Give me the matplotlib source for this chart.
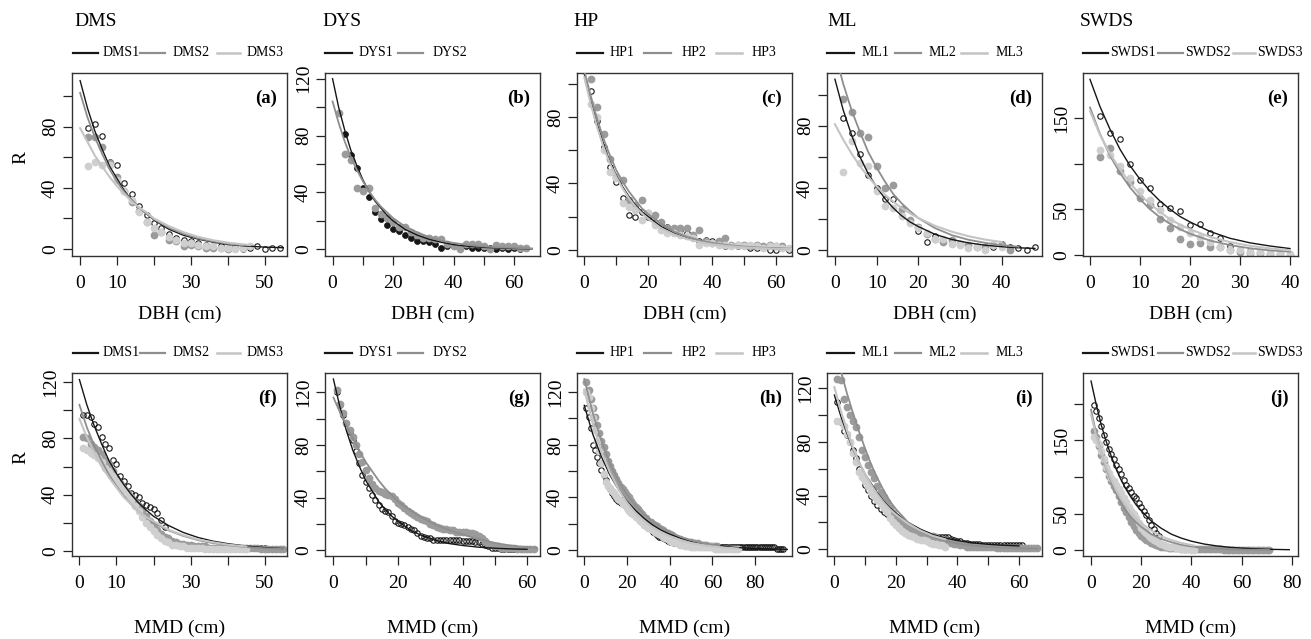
import matplotlib
matplotlib.use('Agg')
import matplotlib.pyplot as plt
from matplotlib.lines import Line2D

plt.rcParams['font.family'] = ['Liberation Serif', 'DejaVu Serif']

W, H = 1311, 639

# ===================== DATA: top row (R vs DBH) =====================
# (a) DMS
a_DMS1_x = [2,4,6,8,10,12,14,16,18,20,22,24,26,28,30,32,34,36,38,40,42,44,46,48,50,52,54]
a_DMS1_R = [79,82,74,57,55,43,36,28,22,17,14,10,7,6,5,4,3,2,2,1,1,0,1,2,0,1,1]
a_DMS2_x = [2,4,6,8,10,12,14,16,18,20,22,24,26,28,30,32,34,36,38,40,42,44]
a_DMS2_R = [73,73,67,56,47,38,31,25,18,9,11,6,5,2,3,2,1,1,1,0,1,1]
a_DMS3_x = [2,4,6,8,10,12,14,16,18,20,22,24,26,28,30,32,34,36,38,40,42,44,46]
a_DMS3_R = [54,57,55,55,45,38,32,24,18,14,11,8,6,4,4,3,2,2,1,1,0,1,2]
a_fit1_x = [0,2,4,6,8,10,12,14,16,18,20,24,28,32,36,40,45,50,55]
a_fit1_R = [110,92,77,65,54,46,38,32,27,23,19,13,9,6.5,4.5,3,2,1.3,0.9]
a_fit2_x = [0,2,4,6,8,10,12,14,16,18,20,24,28,32,36,40,44]
a_fit2_R = [102,86,73,62,52,44,37,32,27,23,19.5,14,10,7,5,3.5,2.5]
a_fit3_x = [0,2,4,6,8,10,12,14,16,18,20,24,28,32,36,40,46]
a_fit3_R = [79,70,61,54,47,41,36,31,27,24,20,15,11,8,5.8,4.2,2.6]

# (b) DYS
b_DYS1_x = [4,6,8,10,12,14,16,18,20,22,24,26,28,30,32,34,36,38,40,42,44,46,48,50,52,54,56,58,60,62,64]
b_DYS1_R = [81,66,57,43,37,26,21,17,14,13,10,8,6,6,5,4,1,2,2,1,2,1,1,1,1,0,1,0,1,0,1]
b_DYS2_x = [2,4,6,8,10,12,14,16,18,20,22,24,26,28,30,32,34,36,38,40,42,44,46,48,50,52,54,56,58,60,62,64]
b_DYS2_R = [96,67,63,43,41,43,29,25,22,19,16,16,12,10,8,8,7,7,4,2,0,4,4,4,2,0,3,2,2,2,1,1]
b_fit_x = [0,2,4,6,8,10,12,14,16,18,20,24,28,32,36,40,45,50,55,60,66]
b_fit1_R = [120,100,84,70,59,49,41,34,29,24,20,14,10,7,5,3.3,2.1,1.4,0.9,0.6,0.3]
b_fit2_R = [104,89,76,65,56,48,41,35,30,26,22,16,12,8.5,6,4.5,3,2,1.4,1,0.6]

# (c) HP
c_HP1_x = [2,4,6,8,10,12,14,16,18,20,22,24,26,28,30,32,34,36,38,40,42,44,46,48,50,52,54,56,58,60,62,64]
c_HP1_R = [96,78,62,50,41,31,21,20,23,20,17,15,14,13,12,10,8,5,6,5,4,2,2,2,2,1,1,1,0,0,1,0]
c_HP2_x = [2,4,6,8,10,12,14,16,18,20,22,24,26,28,30,32,34,36,38,40,42,44,46,48,50,52,54,56,58,60,62]
c_HP2_R = [103,86,70,55,44,42,30,27,30,22,21,17,13,13,13,13,9,12,5,4,5,7,3,3,3,2,3,2,3,2,2]
c_HP3_x = [2,4,6,8,10,12,14,16,18,20,22,24,26,28,30,32,34,36,38,40,42,44,46,48,50,52,54,56,58,60,62,64]
c_HP3_R = [88,80,60,47,43,28,26,24,18,22,15,12,10,10,9,8,7,3,4,4,3,3,2,3,2,3,2,1,2,2,1,1]
c_fit_x = [0,2,4,6,8,10,12,14,16,18,20,24,28,32,36,40,45,50,55,60,65]
c_fit1_R = [106,90,76,64,53,45,38,32,27,23,20,14,10,7,5,3.6,2.4,1.6,1.1,0.8,0.5]
c_fit2_R = [108,93,79,67,57,48,41,35,30,25,21.5,15.5,11,8,5.8,4.2,2.8,1.9,1.3,0.9,0.6]
c_fit3_R = [104,88,74,62,52,44,37,31,26,22,18.5,13,9.3,6.6,4.7,3.3,2.2,1.4,0.9,0.6,0.4]

# (d) ML
d_ML1_x = [2,4,6,8,10,12,14,16,18,20,22,24,26,28,30,32,34,36,38,40,42,44,46,48]
d_ML1_R = [85,75,62,48,40,33,33,22,18,12,5,9,6,5,4,3,2,1,2,4,2,1,0,2]
d_ML2_x = [2,4,6,8,10,12,14,16,18,20,22,24,26,28,30,32,34,36,38,40,42]
d_ML2_R = [97,89,75,73,54,40,42,26,19,15,10,7,5,6,4,3,2,2,3,3,0]
d_ML3_x = [2,4,6,8,10,12,14,16,18,20,22,24,26,28,30,32,34,36,38,40]
d_ML3_R = [50,70,56,54,38,28,27,22,17,14,11,7,7,4,3,1,2,0,3,2]
d_fit1_x = [0,2,4,6,8,10,12,14,16,18,20,24,28,32,36,40,44,48]
d_fit1_R = [110,90,74,60,49,40.5,33,27,22,18,15,10,6.7,4.5,3,2,1.3,0.9]
d_fit2_x = [0,2,4,6,8,10,12,14,16,18,20,24,28,32,36,40,44]
d_fit2_R = [127,107,90,76,63,53,44,36,30,25,20.5,14,9.5,6.5,4.5,3,2]
d_fit3_x = [0,2,4,6,8,10,12,14,16,18,20,24,28,32,36,40]
d_fit3_R = [81,71,62,54,47,41,35.5,31,27,23.5,20.5,15.5,11.7,8.8,6.6,5]

# (e) SWDS
e_x = [2,4,6,8,10,12,14,16,18,20,22,24,26,28,30,32,34,36,38,40]
e_SWDS1_R = [153,134,127,100,82,73,56,51,48,33,34,24,18,9,5,4,3,2,2,1]
e_SWDS2_R = [108,117,92,80,62,55,39,29,17,12,13,8,8,5,3,2,2,1,1,0]
e_SWDS3_R = [115,110,98,84,70,60,49,38,30,24,19,14,8,5,5,3,3,2,2,1]
e_fit_x = [0,2,4,6,8,10,12,14,16,18,20,24,28,32,36,40]
e_fit1_R = [193,163,138,116,98,83,70,59,50,42,36,25.5,18,13,9.5,6.7]
e_fit2_R = [162,133,109,90,74,61,50,41,34,28,23,15.5,10.5,7,4.7,3.2]
e_fit3_R = [158,132,111,94,79,66,56,47,39,33,28,19.5,13.8,9.7,6.8,4.8]

# ===================== DATA: bottom row (R vs MMD, 1-cm classes) =====================
# (f) DMS
f_DMS1_x = [1,2,3,4,5,6,7,8,9,10,11,12,13,14,15,16,17,18,19,20,21,22,23,44,45,46,47,48,49,50]
f_DMS1_R = [97,97,95,90,88,81,76,73,65,62,53,50,46,41,40,38.5,34,32.5,31,30,27,22,17,2,2,2,2,2,2,2]
f_DMS2_R = [81,80,76,74,72,69,65,62,57,52,48,44,41,38,35,32,28,25,21,18,15,12,10,9,7,6,5,5,4,4,
            3,3,3,3,2,2,2,2,2,2,2,2,2,2,2,2,2,2,1,1,1,1,1,1,1]
f_DMS3_R = [73,72,70,68,66,63,59,56,53,50,47,43,40,36,32,28,24,20,17,14,11,9,7,6,4,4,3,3,2,2,
            2,2,2,1,1,1,1,1,1,1,1,1,1,1,1]
f_fit_x = [0,2,4,6,8,10,12,14,16,18,20,24,28,32,36,40,45,50,55]
f_fit1_R = [122,104,89,76,64,55,47,40,34,29,24.5,18,13,9.4,6.8,5,3.3,2.2,1.5]
f_fit2_R = [104,88,75,64,54,46,39,33,28,24,20,14.5,10.5,7.5,5.4,3.9,2.6,1.7,1.2]
f_fit3_x = [0,2,4,6,8,10,12,14,16,18,20,24,28,32,36,40,45]
f_fit3_R = [94,81,70,60,52,45,38,33,28,24,21,15,11,8,6,4.3,3]

# (g) DYS
g_DYS1_R = [120,110,103,97,90,84,75,66,57,52,47,42,38,34,31,30,29,26,22,21,20,19,18,16,15,13,11,10,9,9,
            8,8,8,8,8,8,8,8,8,7,7,7,7,6,6,5,4,3,2,2,2,1,1,1,1,1]
g_DYS2_R = [122,111,104,97,91,86,80,73,67,61,55,50,47,45,44,43,42,41,39,36,34,32,30,28,27,25,24,23,22,20,
            19,18,17,16,16,15,15,14,14,14,14,13,13,12,11,9,7,5,4,3,3,2,2,2,2,2,1,1,1,1,1,1]
g_fit1_x = [0,2,4,6,8,10,12,14,16,18,20,24,28,32,36,40,45,50,55,60]
g_fit1_R = [130,109,91,76,64,53,45,37,31,26,22,15,10.5,7.3,5,3.6,2.3,1.5,1,0.7]
g_fit2_x = [0,2,4,6,8,10,12,14,16,18,20,24,28,32,36,40,45,50,55,60,63]
g_fit2_R = [116,105,95,85,76,67,60,53,47,42,37,30,24,19,15,12,8.5,5.5,3.5,2.2,1.7]

# (h) HP
h_HP1_R = [108,101,93,80,76,71,66,61,57,53,49,46,43,41,39,37,36,38,37,36,34,32,30,28,26,24,22,21,19,18,
           16,14,13,11,10,10,9,8,7,6,6,5,5,5,4,4,4,4,3,3,3,3,3,3,3,3,3,3,3,3,2,2,2,2,2,2,2,2,2,2,
           2,2,2,2,2,2,2,2,2,2,2,2,2,2,2,2,2,2,2,1,1,1,1]
h_HP2_R = [128,122,115,108,101,95,89,83,78,73,68,64,60,57,54,51,48,46,44,42,40,37,35,33,31,29,27,25,24,22,
           21,20,19,18,17,16,15,14,13,12,11,10,9,8,8,7,7,6,6,6,5,5,5,4,4,4,4,3,3,3,3,3]
h_HP3_R = [120,116,108,100,91,83,75,66,58,52,49,47,45,43,41,39,37,35,34,32,30,28,27,25,24,22,21,19,18,17,
           16,15,14,13,12,11,10,9,8,7,6,6,5,5,4,4,3,3,3,2,2,2,2,2,2,2,2,2,2,2,1,1,1,1,1,1,1,1,1,1,1,1]
h_fit1_x = [0,4,8,12,16,20,24,28,32,36,40,45,50,55,60,70,80,90,95]
h_fit1_R = [110,88,71,57,46,37,30,24,19,15,12,9,6.5,5,3.7,2,1.1,0.6,0.4]
h_fit2_x = [0,4,8,12,16,20,24,28,32,36,40,45,50,55,60,63]
h_fit2_R = [130,104,83,66,53,42,34,27,21.5,17,13.7,10,7.3,5.3,3.9,3.2]
h_fit3_x = [0,4,8,12,16,20,24,28,32,36,40,45,50,55,60,65,72]
h_fit3_R = [122,96,75,59,46,36,28,22,17,13.5,10.5,7.5,5.3,3.8,2.7,1.9,1.1]

# (i) ML
i_ML1_R = [110,95,88,85,80,74,68,60,54,48,44,40,36,33,30,28,26,24,22,20,18,17,15,14,13,12,12,11,11,10,
           10,10,9,9,9,9,9,8,7,6,6,5,5,4,4,4,4,3,3,3,3,3,3,3,3,3,3,3,3,3,3]
i_ML2_R = [127,126,112,106,100,96,91,84,74,69,63,58,53,47,43,39,35,31,27,24,22,20,18,16,15,14,13,12,11,11,
           10,10,9,8,8,7,6,5,4,4,3,3,2,2,2,2,2,2,2,2,2,2,1,1,1,1,1,1,1,1,1,1,1,1,1,1]
i_ML3_R = [96,96,92,86,80,72,65,58,54,51,47,43,40,37,34,31,28,23,20,18,16,14,12,11,10,9,8,7,7,6,
           5,4,4,3,3,2]
i_fit1_x = [0,2,4,6,8,10,12,14,16,18,20,24,28,32,36,40,45,50,55,60]
i_fit1_R = [115,100,87,75,65,56,49,42,36,31,27,20,15,11,8.5,6.5,4.8,3.7,3,2.5]
i_fit2_x = [0,2,4,6,8,10,12,14,16,18,20,24,28,32,36,40,45,50,55,60,66]
i_fit2_R = [150,134,117,102,88,75,63,53,44,36,30,20,13.5,9,6.2,4.3,2.8,1.8,1.2,0.8,0.5]
i_fit3_x = [0,2,4,6,8,10,12,14,16,18,20,24,28,32,36]
i_fit3_R = [121,104,89,76,65,56,48,41,35,30,26,19,14,10,7.5]

# (j) SWDS
j_SWDS1_R = [198,190,180,170,158,148,138,131,124,117,111,104,96,89,85,79,74,71,64,59,54,48,42,35,29,23,19]
j_SWDS2_R = [163,155,143,130,120,111,102,95,88,82,74,66,58,52,46,39,33,28,24,20,17,14,12,10,8,7,6,5,4,4,
             3,3,3,3,3,2,2,2,2,2,2,2,2,2,2,2,2,2,2,2,2,2,1,1,1,1,1,1,1,1,1,1,1,1,1,1,1,1,1,1,1]
j_SWDS3_R = [154,150,145,136,125,114,106,99,94,89,84,78,72,66,59,54,49,44,37,31,27,23,20,17,14,12,10,9,7,6,
             5,4,4,3,3,2,2,2,2,1,1]
j_fit1_x = [0,2,4,6,8,10,12,14,16,18,20,24,28,32,36,40,45,50,55,60,65,70,79]
j_fit1_R = [231,200,172,149,129,111,96,83,72,62,54,40,30,22,16.6,12.4,8.6,6,4.2,3,2.1,1.4,0.8]
j_fit2_x = [0,2,4,6,8,10,12,14,16,18,20,24,28,32,36,40,45,50,55,60,71]
j_fit2_R = [192,160,134,112,94,78,65,54,45,38,32,22,15.5,11,7.5,5.2,3.3,2.1,1.4,0.9,0.4]
j_fit3_x = [0,2,4,6,8,10,12,14,16,18,20,24,28,32,36,41]
j_fit3_R = [185,157,134,114,97,82,70,60,51,43,37,27,19,14,10,6.5]

site_names = ['DMS', 'DYS', 'HP', 'ML', 'SWDS']
panel_letters = ['(a)', '(b)', '(c)', '(d)', '(e)', '(f)', '(g)', '(h)', '(i)', '(j)']


def cls(R, start=1):
    return list(range(start, start + len(R)))


# ===================== STYLES =====================
C1, C2, C3 = '#161616', '#8e8e8e', '#c9c9c9'
P1 = dict(marker='o', ms=3.9, mfc='none', mec=C1, mew=0.8, ls='none')
P1f = dict(marker='o', ms=4.3, mfc=C1, mec=C1, mew=0.5, ls='none')
P2 = dict(marker='o', ms=5.6, mfc='#9b9b9b', mec='none', ls='none')
P3 = dict(marker='o', ms=5.6, mfc='#cfcfcf', mec='none', ls='none')
LS = [dict(color=C1, lw=1.0), dict(color=C2, lw=1.3), dict(color='#c4c4c4', lw=1.5)]
LEG = [dict(color=C1, lw=1.6), dict(color=C2, lw=1.6), dict(color='#c4c4c4', lw=1.8)]

panels = [
    dict(pts=[(a_DMS1_x, a_DMS1_R, P1), (a_DMS2_x, a_DMS2_R, P2), (a_DMS3_x, a_DMS3_R, P3)],
         fits=[(a_fit1_x, a_fit1_R), (a_fit2_x, a_fit2_R), (a_fit3_x, a_fit3_R)],
         xlim=(-2.2, 56), ylim=(-4.5, 115),
         xt=[0, 10, 20, 30, 40, 50], xl=['0', '10', '', '30', '', '50'],
         yt=[0, 20, 40, 60, 80, 100], yl=['0', '', '40', '', '80', '']),
    dict(pts=[(b_DYS1_x, b_DYS1_R, P1f), (b_DYS2_x, b_DYS2_R, P2)],
         fits=[(b_fit_x, b_fit1_R), (b_fit_x, b_fit2_R)],
         xlim=(-2.5, 68.6), ylim=(-4.7, 124),
         xt=[0, 10, 20, 30, 40, 50, 60], xl=['0', '', '20', '', '40', '', '60'],
         yt=[0, 20, 40, 60, 80, 100, 120], yl=['0', '', '40', '', '80', '', '120']),
    dict(pts=[(c_HP1_x, c_HP1_R, P1), (c_HP2_x, c_HP2_R, P2), (c_HP3_x, c_HP3_R, P3)],
         fits=[(c_fit_x, c_fit1_R), (c_fit_x, c_fit2_R), (c_fit_x, c_fit3_R)],
         xlim=(-2.3, 65), ylim=(-3.8, 106.7),
         xt=[0, 10, 20, 30, 40, 50, 60], xl=['0', '', '20', '', '40', '', '60'],
         yt=[0, 20, 40, 60, 80, 100], yl=['0', '', '40', '', '80', '']),
    dict(pts=[(d_ML1_x, d_ML1_R, P1), (d_ML2_x, d_ML2_R, P2), (d_ML3_x, d_ML3_R, P3)],
         fits=[(d_fit1_x, d_fit1_R), (d_fit2_x, d_fit2_R), (d_fit3_x, d_fit3_R)],
         xlim=(-1.9, 49.7), ylim=(-4, 114),
         xt=[0, 10, 20, 30, 40], xl=['0', '10', '20', '30', '40'],
         yt=[0, 20, 40, 60, 80, 100], yl=['0', '', '40', '', '80', '']),
    dict(pts=[(e_x, e_SWDS1_R, P1), (e_x, e_SWDS2_R, P2), (e_x, e_SWDS3_R, P3)],
         fits=[(e_fit_x, e_fit1_R), (e_fit_x, e_fit2_R), (e_fit_x, e_fit3_R)],
         xlim=(-1.4, 41.6), ylim=(-1.5, 200),
         xt=[0, 10, 20, 30, 40], xl=['0', '10', '20', '30', '40'],
         yt=[0, 50, 100, 150], yl=['0', '50', '', '150']),
    dict(pts=[(f_DMS1_x, f_DMS1_R, P1), (cls(f_DMS2_R), f_DMS2_R, P2), (cls(f_DMS3_R), f_DMS3_R, P3)],
         fits=[(f_fit_x, f_fit1_R), (f_fit_x, f_fit2_R), (f_fit3_x, f_fit3_R)],
         xlim=(-2, 56), ylim=(-3.8, 126.7),
         xt=[0, 10, 20, 30, 40, 50], xl=['0', '10', '', '30', '', '50'],
         yt=[0, 20, 40, 60, 80, 100, 120], yl=['0', '', '40', '', '80', '', '120']),
    dict(pts=[(cls(g_DYS1_R), g_DYS1_R, P1), (cls(g_DYS2_R), g_DYS2_R, P2)],
         fits=[(g_fit1_x, g_fit1_R), (g_fit2_x, g_fit2_R)],
         xlim=(-2.6, 64), ylim=(-4.4, 134.6),
         xt=[0, 10, 20, 30, 40, 50, 60], xl=['0', '', '20', '', '40', '', '60'],
         yt=[0, 20, 40, 60, 80, 100, 120], yl=['0', '', '40', '', '80', '', '120']),
    dict(pts=[(cls(h_HP1_R), h_HP1_R, P1), (cls(h_HP2_R), h_HP2_R, P2), (cls(h_HP3_R), h_HP3_R, P3)],
         fits=[(h_fit1_x, h_fit1_R), (h_fit2_x, h_fit2_R), (h_fit3_x, h_fit3_R)],
         xlim=(-3.4, 97.2), ylim=(-4.6, 134.6),
         xt=[0, 20, 40, 60, 80], xl=['0', '20', '40', '60', '80'],
         yt=[0, 20, 40, 60, 80, 100, 120], yl=['0', '', '40', '', '80', '', '120']),
    dict(pts=[(cls(i_ML1_R), i_ML1_R, P1), (cls(i_ML2_R), i_ML2_R, P2), (cls(i_ML3_R), i_ML3_R, P3)],
         fits=[(i_fit1_x, i_fit1_R), (i_fit2_x, i_fit2_R), (i_fit3_x, i_fit3_R)],
         xlim=(-2.4, 67.5), ylim=(-5, 131.5),
         xt=[0, 10, 20, 30, 40, 50, 60], xl=['0', '', '20', '', '40', '', '60'],
         yt=[0, 20, 40, 60, 80, 100, 120], yl=['0', '', '40', '', '80', '', '120']),
    dict(pts=[(cls(j_SWDS1_R), j_SWDS1_R, P1), (cls(j_SWDS2_R), j_SWDS2_R, P2), (cls(j_SWDS3_R), j_SWDS3_R, P3)],
         fits=[(j_fit1_x, j_fit1_R), (j_fit2_x, j_fit2_R), (j_fit3_x, j_fit3_R)],
         xlim=(-3.2, 82.5), ylim=(-7.8, 242),
         xt=[0, 20, 40, 60, 80], xl=['0', '20', '40', '60', '80'],
         yt=[0, 50, 100, 150, 200], yl=['0', '50', '', '150', '']),
]

# ===================== LAYOUT =====================
fig = plt.figure(figsize=(W / 100, H / 100), dpi=100)
lefts = [72, 325, 577, 827, 1083]
row_top = [73, 373]
AW, AH = 215, 183
legend_y = [53, 353]
xlabel_y = [314, 628]
ylabel_y = [157, 457]
legend_pos = [
    [(73, 98, 103), (140, 165, 173), (217, 240, 247)],
    [(325, 352, 359), (398, 423, 433)],
    [(577, 603, 610), (644, 671, 682), (716, 742, 752)],
    [(827, 854, 862), (895, 921, 929), (961, 987, 996)],
    [(1083, 1108, 1110), (1158, 1183, 1185), (1233, 1255, 1257)],
]


def fx(px):
    return px / W


def fy(py):
    return 1 - py / H


for k, p in enumerate(panels):
    row, col = divmod(k, 5)
    L = lefts[col]
    T = row_top[row]
    ax = fig.add_axes([fx(L), fy(T + AH), AW / W, AH / H])
    for (xs, ys, st) in p['pts']:
        ax.plot(xs, ys, **st, zorder=2)
    for n, (xs, ys) in enumerate(p['fits']):
        ax.plot(xs, ys, **LS[n], zorder=3)
    ax.set_xlim(*p['xlim'])
    ax.set_ylim(*p['ylim'])
    ax.set_xticks(p['xt'])
    ax.set_xticklabels(p['xl'])
    ax.set_yticks(p['yt'])
    ax.set_yticklabels(p['yl'], rotation=90, va='center')
    ax.tick_params(axis='both', direction='out', length=6.5, width=0.9, labelsize=14,
                   color='#222222')
    ax.tick_params(axis='x', pad=7)
    ax.tick_params(axis='y', pad=3)
    for s in ax.spines.values():
        s.set_linewidth(1.0)
        s.set_color('#333333')
    ax.text(0.955, 0.86, panel_letters[k], transform=ax.transAxes, ha='right', va='center',
            fontsize=13.5, fontweight='bold')

    # x label
    fig.text(fx(L + AW / 2), fy(xlabel_y[row]), 'DBH (cm)' if row == 0 else 'MMD (cm)',
             ha='center', va='center', fontsize=14)
    # legend above panel
    nser = len(p['fits'])
    for n in range(nser):
        x0, x1, tx = legend_pos[col][n]
        fig.add_artist(Line2D([fx(x0), fx(x1)], [fy(legend_y[row])] * 2, **LEG[n]))
        fig.text(fx(tx), fy(legend_y[row]), f'{site_names[col]}{n + 1}', ha='left', va='center',
                 fontsize=10)

# site titles
title_x = [74, 322, 573, 827, 1080]
for col, name in enumerate(site_names):
    fig.text(fx(title_x[col]), fy(21), name, ha='left', va='center', fontsize=14)

# y-axis label R for first column
for row in range(2):
    fig.text(fx(21), fy(ylabel_y[row]), 'R', rotation=90, ha='center', va='center', fontsize=14)

fig.savefig('out.png', dpi=100)
